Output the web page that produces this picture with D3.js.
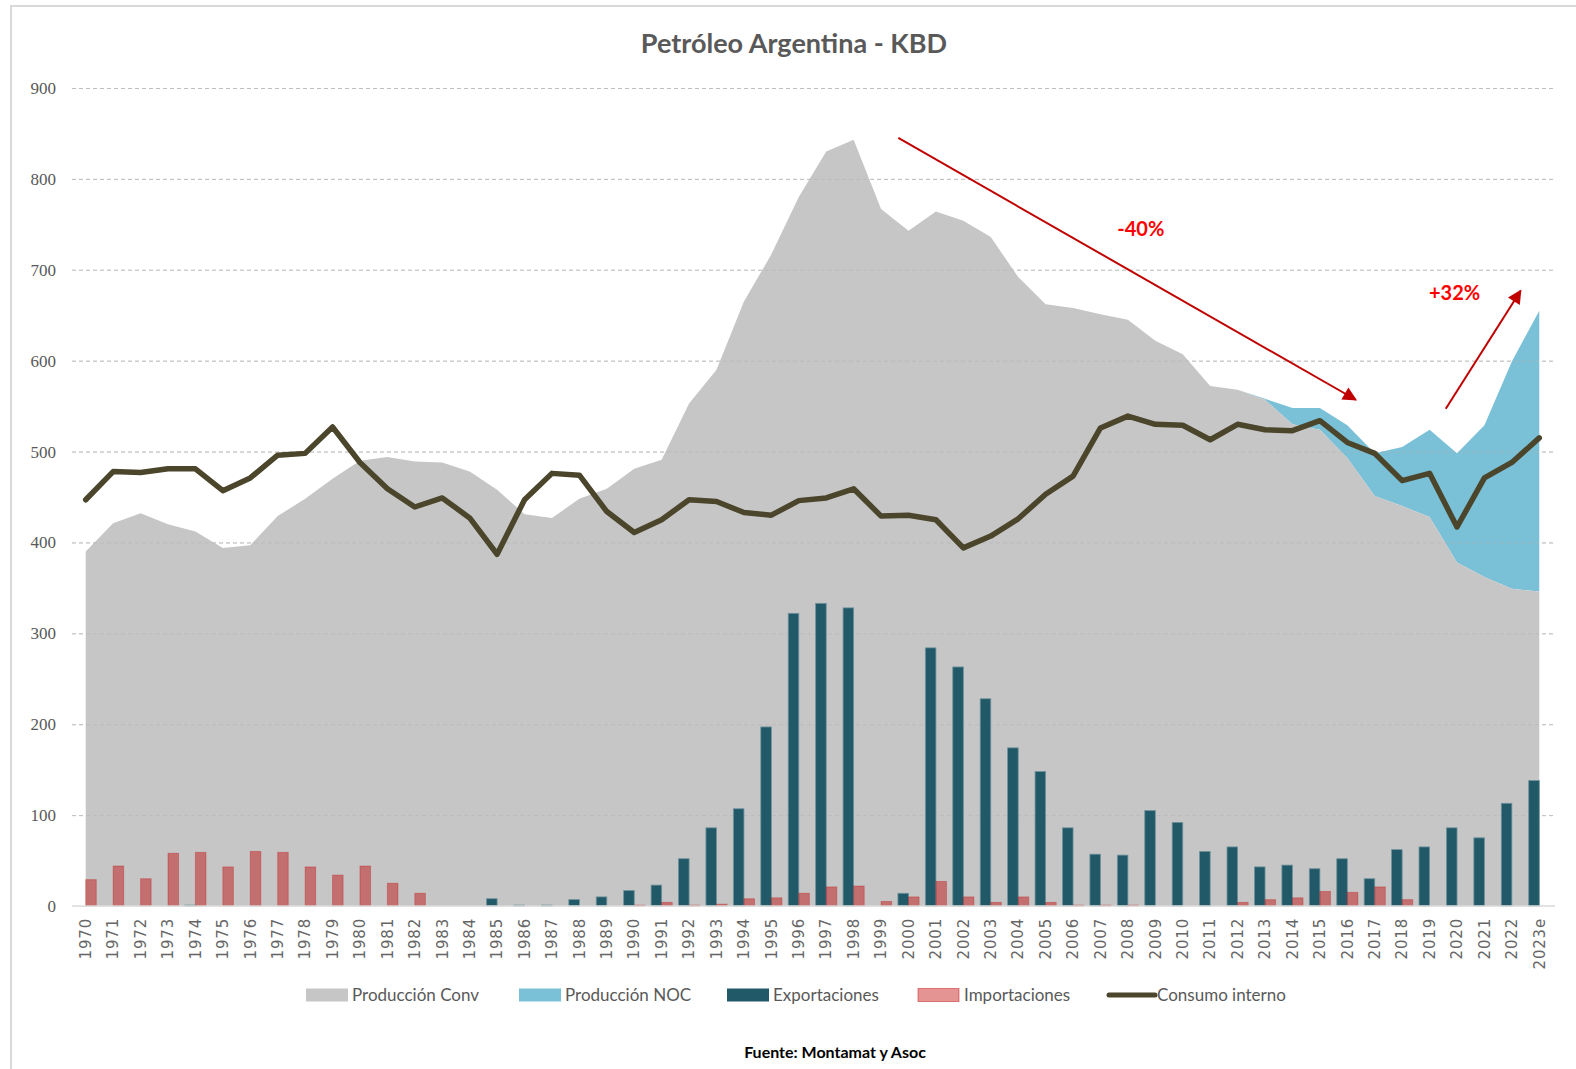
<!DOCTYPE html>
<html>
<head>
<meta charset="utf-8">
<script src="https://cdn.jsdelivr.net/npm/d3@7"></script>
<style>
  body { margin: 0; background: #fff; }
  svg { display: block; }
</style>
</head>
<body>
<svg id="chart" width="1576" height="1069"></svg>
<script>
// categories
const years = ["1970","1971","1972","1973","1974","1975","1976","1977","1978","1979",
  "1980","1981","1982","1983","1984","1985","1986","1987","1988","1989",
  "1990","1991","1992","1993","1994","1995","1996","1997","1998","1999",
  "2000","2001","2002","2003","2004","2005","2006","2007","2008","2009",
  "2010","2011","2012","2013","2014","2015","2016","2017","2018","2019",
  "2020","2021","2022","2023e"];

// Producción convencional (KBD)
const prodConv = [390,421,432,420,412,394,397,429,448,470,
  490,494,489,488,478,458,431,427,448,459,
  481,491,553,590,665,717,780,830,843,767,
  743,764,754,736,692,662,658,651,645,622,
  607,572,568,557,530,524,493,451,440,428,
  378,362,349,346];

// Producción no convencional (stacked over conv)
const prodNoc = [0,0,0,0,0,0,0,0,0,0,
  0,0,0,0,0,0,0,0,0,0,
  0,0,0,0,0,0,0,0,0,0,
  0,0,0,0,0,0,0,0,0,0,
  0,0,0,1,18,24,36,47,65,96,
  120,167,250,309];

const exportaciones = [0,0,0,0,1,0,0,0,0,0,
  0,0,0,0,0,8,1,1,7,10,
  17,23,52,86,107,197,322,333,328,0,
  14,284,263,228,174,148,86,57,56,105,
  92,60,65,43,45,41,52,30,62,65,
  86,75,113,138];

const importaciones = [29,44,30,58,59,43,60,59,43,34,
  44,25,14,0,0,0,0,0,0,0,
  1,4,1,2,8,9,14,21,22,5,
  10,27,10,4,10,4,1,1,1,0,
  0,0,4,7,9,16,15,21,7,0,
  0,0,0,0];

const consumo = [447,478,477,481,481,457,471,496,498,527,
  488,459,439,449,427,387,447,476,474,434,
  411,425,447,445,433,430,446,449,459,429,
  430,425,394,407,426,453,473,526,539,530,
  529,513,530,524,523,534,510,498,468,476,
  417,471,488,515];

const yTicks = [0,100,200,300,400,500,600,700,800,900];

// annotation arrows: [start index, start value, end index, end value]
const arrows = [[29.63, 845, 46.31, 557], [49.59, 547, 52.32, 677]];
const arrowLabels = ["-40%", "+32%"];
const labelPos = [[38.47, 745], [49.91, 674]];

const legendItems = ["Producción Conv", "Producción NOC", "Exportaciones", "Importaciones", "Consumo interno"];

// colors
const cConv = "#c6c6c6", cNoc = "#7ac0d6", cExp = "#215968", cImp = "#c00000", cLine = "#4a452b";

const svg = d3.select("#chart");
const plot = { left: 72, right: 1553, top: 88, bottom: 906 };

// frame
svg.append("rect")
  .attr("x", 11).attr("y", 6).attr("width", 1600).attr("height", 1100)
  .attr("fill", "none").attr("stroke", "#d9d9d9").attr("stroke-width", 2);

const x = d3.scaleBand().domain(years).range([plot.left, plot.right]).paddingInner(0.23).paddingOuter(0.115);
const bw = x.bandwidth();
const xc = d => x(d) + bw / 2;
const step = x.step();
const xi = i => xc(years[0]) + i * step;
const xSub = d3.scaleBand().domain(["exp", "imp"]).range([0, bw]);
const y = d3.scaleLinear().domain([0, 900]).range([plot.bottom, plot.top]);

const gridAxis = () => d3.axisLeft(y).tickValues(yTicks.filter(v => v > 0))
  .tickSize(-(plot.right - plot.left)).tickFormat("");

// gridlines
svg.append("g")
  .attr("transform", `translate(${plot.left},0)`)
  .call(gridAxis())
  .call(g => g.select(".domain").remove())
  .call(g => g.selectAll("line").attr("stroke", "#d0d0d0").attr("stroke-dasharray", "4,3"));

const rows = years.map((yr, i) => ({
  yr, conv: prodConv[i], noc: prodNoc[i], exp: exportaciones[i], imp: importaciones[i], cons: consumo[i]
}));

// areas
svg.append("path").datum(rows)
  .attr("fill", cNoc)
  .attr("d", d3.area().x(d => xc(d.yr)).y0(d => y(d.conv)).y1(d => y(d.conv + d.noc)));
svg.append("path").datum(rows)
  .attr("fill", cConv)
  .attr("d", d3.area().x(d => xc(d.yr)).y0(y(0)).y1(d => y(d.conv)));

// gridlines show faintly through the area
svg.append("g")
  .attr("transform", `translate(${plot.left},0)`)
  .call(gridAxis())
  .call(g => g.select(".domain").remove())
  .call(g => g.selectAll("line").attr("stroke", "#b4b4b4").attr("stroke-opacity", 0.6).attr("stroke-dasharray", "4,3"));

// bars
svg.append("g").selectAll("rect")
  .data(rows.filter(d => d.exp > 0))
  .join("rect")
  .attr("x", d => x(d.yr) + xSub("exp"))
  .attr("width", xSub.bandwidth())
  .attr("y", d => y(d.exp))
  .attr("height", d => y(0) - y(d.exp))
  .attr("fill", cExp)
  .attr("stroke", "#6f929c").attr("stroke-width", 0.8);

svg.append("g").selectAll("rect")
  .data(rows.filter(d => d.imp > 0))
  .join("rect")
  .attr("x", d => x(d.yr) + xSub("imp"))
  .attr("width", xSub.bandwidth())
  .attr("y", d => y(d.imp))
  .attr("height", d => y(0) - y(d.imp))
  .attr("fill", cImp).attr("fill-opacity", 0.44)
  .attr("stroke", cImp).attr("stroke-opacity", 0.3).attr("stroke-width", 1);

// x baseline
svg.append("line")
  .attr("x1", plot.left).attr("x2", plot.right + 2).attr("y1", y(0)).attr("y2", y(0))
  .attr("stroke", "#d9d9d9").attr("stroke-width", 1.5);

// consumo line
svg.append("path").datum(rows)
  .attr("fill", "none").attr("stroke", cLine).attr("stroke-width", 5.5)
  .attr("stroke-linejoin", "round").attr("stroke-linecap", "round")
  .attr("d", d3.line().x(d => xc(d.yr)).y(d => y(d.cons)));

// y axis labels
svg.append("g")
  .attr("transform", `translate(${plot.left - 16},0)`)
  .call(d3.axisLeft(y).tickValues(yTicks).tickSize(0).tickPadding(0))
  .call(g => g.select(".domain").remove())
  .call(g => g.selectAll("text")
    .attr("font-family", "'Liberation Serif', serif").attr("font-size", 17).attr("fill", "#595959"));

// x axis labels
svg.append("g")
  .attr("transform", `translate(0,${y(0)})`)
  .call(d3.axisBottom(x).tickSize(0).tickPadding(0))
  .call(g => g.select(".domain").remove())
  .call(g => g.selectAll("text")
    .attr("font-family", "'DejaVu Sans', sans-serif").attr("font-size", 15)
    .attr("letter-spacing", 0.8).attr("fill", "#666")
    .attr("text-anchor", "end").attr("dy", "0.35em").attr("dx", 0)
    .attr("transform", "translate(0,12) rotate(-90)").attr("y", 0).attr("x", 0));

// arrows
const defs = svg.append("defs");
defs.append("marker").attr("id", "head")
  .attr("viewBox", "0 0 10 10").attr("refX", 9).attr("refY", 5)
  .attr("markerWidth", 8).attr("markerHeight", 7).attr("markerUnits", "strokeWidth")
  .attr("orient", "auto")
  .append("path").attr("d", "M0,0 L10,5 L0,10 z").attr("fill", "#c00000");

svg.append("g").selectAll("line")
  .data(arrows).join("line")
  .attr("x1", d => xi(d[0])).attr("y1", d => y(d[1]))
  .attr("x2", d => xi(d[2])).attr("y2", d => y(d[3]))
  .attr("stroke", "#c00000").attr("stroke-width", 2)
  .attr("marker-end", "url(#head)");

svg.append("g").selectAll("text")
  .data(arrowLabels).join("text")
  .attr("x", (d, i) => xi(labelPos[i][0])).attr("y", (d, i) => y(labelPos[i][1]))
  .attr("text-anchor", "middle").attr("dy", "0.35em")
  .attr("font-family", "Lato, sans-serif").attr("font-weight", "bold").attr("font-size", 20)
  .attr("fill", "#ff0000")
  .text(d => d);

// title
svg.append("text")
  .attr("x", 794).attr("y", 53).attr("text-anchor", "middle")
  .attr("font-family", "Lato, sans-serif").attr("font-weight", "bold").attr("font-size", 27)
  .attr("fill", "#595959")
  .text("Petróleo Argentina - KBD");

// legend
const legX = [306, 519, 727, 918, 1109];
const lg = svg.append("g").attr("font-family", "Lato, sans-serif").attr("font-size", 17).attr("fill", "#595959");
legendItems.forEach((name, i) => {
  const g = lg.append("g").attr("transform", `translate(${legX[i]},995)`);
  if (i === 4) {
    g.append("line").attr("x1", 0).attr("x2", 46).attr("y1", 0).attr("y2", 0)
      .attr("stroke", cLine).attr("stroke-width", 5).attr("stroke-linecap", "round");
  } else if (i === 3) {
    g.append("rect").attr("x", 0).attr("y", -6.5).attr("width", 41).attr("height", 13)
      .attr("fill", cImp).attr("fill-opacity", 0.42).attr("stroke", cImp).attr("stroke-opacity", 0.45);
  } else {
    g.append("rect").attr("x", 0).attr("y", -6.5).attr("width", 42).attr("height", 13)
      .attr("fill", [cConv, cNoc, cExp][i]);
  }
  g.append("text").attr("x", i === 4 ? 48 : 46).attr("dy", "0.35em").text(name);
});

// source
svg.append("text")
  .attr("x", 835).attr("y", 1058).attr("text-anchor", "middle")
  .attr("font-family", "Lato, sans-serif").attr("font-weight", "bold").attr("font-size", 16)
  .attr("fill", "#000")
  .text("Fuente: Montamat y Asoc");
</script>
</body>
</html>
